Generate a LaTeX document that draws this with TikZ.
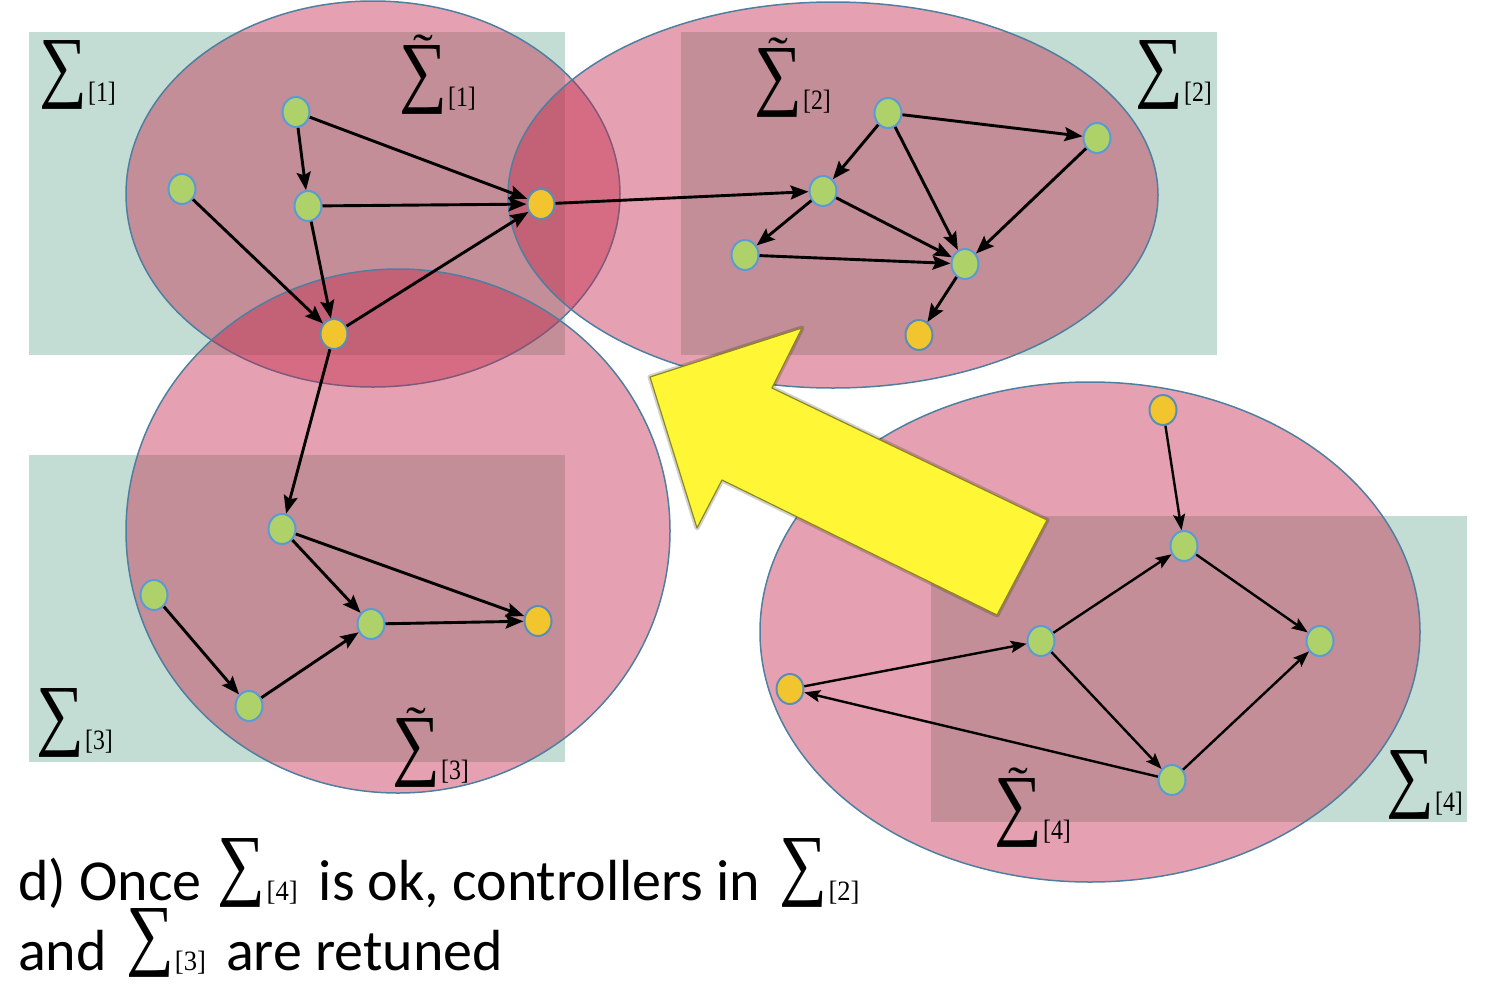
\documentclass[tikz,border=0pt]{standalone}
\usepackage{fontspec}
\usepackage{graphicx}
\newfontfamily\capfont{Carlito}
\newfontfamily\tnr{Liberation Serif}
\usetikzlibrary{arrows.meta,shapes.geometric}
\definecolor{rectg}{HTML}{C3DDD4}
\definecolor{pinkf}{RGB}{195,38,74}
\definecolor{ellst}{HTML}{4F7FA0}
\definecolor{ngreen}{HTML}{AFD16A}
\definecolor{norange}{HTML}{F2C42E}
\definecolor{nborder}{HTML}{5B9BD5}
\definecolor{oborder}{HTML}{5B8DB5}
\definecolor{yarrow}{HTML}{FFF735}
\newcommand\Sg{{\tnr\fontsize{64}{64}\selectfont\scalebox{1.05}[1.24]{∑}}}
\newcommand\SubLab[1]{{\tnr\fontsize{28}{28}\selectfont\scalebox{0.85}[1]{[#1]}}}
\newcommand\CapSub[1]{{\tnr\fontsize{28}{28}\selectfont\scalebox{0.95}[1]{[#1]}}}
\newcommand\SigLab[1]{\Sg\hspace{1pt}\raisebox{-9pt}{\SubLab{#1}}}
\newcommand\TSigLab[1]{\setbox0\hbox{\Sg}\rlap{\hbox to \wd0{\hss\raisebox{30pt}{\tnr\fontsize{44}{44}\selectfont\scalebox{1.35}[1.1]{˜}}\hss}}\box0\hspace{1pt}\raisebox{-9pt}{\SubLab{#1}}}
\newcommand\CapSig[1]{\raisebox{10pt}{\Sg}\hspace{1pt}\CapSub{#1}}
\begin{document}
\begin{tikzpicture}[x=1pt,y=-1pt,
  grect/.style={fill=rectg,draw=none},
  blob/.style={fill=pinkf,fill opacity=0.43,draw=ellst,line width=1.5pt},
  gn/.style={ellipse,minimum width=27pt,minimum height=30pt,inner sep=0pt,fill=ngreen,draw=nborder,line width=2pt},
  on/.style={ellipse,minimum width=27pt,minimum height=30pt,inner sep=0pt,fill=norange,draw=oborder,line width=2pt},
  edge/.style={line width=2.9pt,-{Stealth[length=18pt,width=14pt,inset=3pt]}},
  thinedge/.style={line width=2.4pt,-{Stealth[length=16pt,width=12pt,inset=3pt]}},
  lab/.style={inner sep=0pt,anchor=base west},
  capt/.style={inner sep=0pt,anchor=base west,font=\capfont\fontsize{58}{70}\selectfont}]
\useasboundingbox (0,0) rectangle (1497,991);
% green rectangles
\fill[grect] (29,32) rectangle (565,355);
\fill[grect] (681,32) rectangle (1217,355);
\fill[grect] (29,455) rectangle (565,762);
\fill[grect] (931,516) rectangle (1467,822);
% pink ellipses
\filldraw[blob] (373,194) ellipse [x radius=247pt, y radius=193pt];
\filldraw[blob] (833,195) ellipse [x radius=325pt, y radius=193pt];
\filldraw[blob] (398,531) ellipse [x radius=272pt, y radius=262pt];
\filldraw[blob] (1090,632) ellipse [x radius=330pt, y radius=250pt];
% yellow arrow (soft edge, then body)
\draw[draw=black,opacity=0.18,line width=5pt,line join=round]
  (650,377) -- (802,328) -- (772,388) -- (1047,520) -- (997,615) -- (722,480) -- (697,528) -- cycle;
\filldraw[fill=yarrow,draw=yarrow!55!black,line width=1.2pt,line join=round]
  (650,377) -- (802,328) -- (772,388) -- (1047,520) -- (997,615) -- (722,480) -- (697,528) -- cycle;
% group 1
\node[gn] (a1) at (296,112) {};
\node[gn] (a2) at (182,189) {};
\node[gn] (a3) at (308,206) {};
\node[on] (o1) at (541,204) {};
\node[on] (o2) at (334,334) {};
% group 2
\node[gn] (b1) at (888,113) {};
\node[gn] (b2) at (1097,138) {};
\node[gn] (b3) at (823,191) {};
\node[gn] (b4) at (745,255) {};
\node[gn] (b5) at (965,264) {};
\node[on] (o3) at (919,335) {};
% group 3
\node[gn] (c1) at (282,529) {};
\node[gn] (c2) at (154,595) {};
\node[gn] (c3) at (371,624) {};
\node[gn] (c4) at (249,706) {};
\node[on] (o4) at (538,621) {};
% group 4
\node[on] (o5) at (1163,410) {};
\node[gn] (d1) at (1184,546) {};
\node[gn] (d2) at (1041,641) {};
\node[gn] (d3) at (1320,641) {};
\node[on] (o6) at (790,689) {};
\node[gn] (d4) at (1172,780) {};
% edges
\draw[edge] (a1) -- (a3);
\draw[edge] (a1) -- (o1);
\draw[edge] (a3) -- (o1);
\draw[edge] (a2) -- (o2);
\draw[edge] (a3) -- (o2);
\draw[edge] (o2) -- (o1);
\draw[edge] (o1) -- (b3);
\draw[edge] (b1) -- (b2);
\draw[edge] (b1) -- (b3);
\draw[edge] (b1) -- (b5);
\draw[edge] (b2) -- (b5);
\draw[edge] (b3) -- (b4);
\draw[edge] (b3) -- (b5);
\draw[edge] (b4) -- (b5);
\draw[edge] (b5) -- (o3);
\draw[edge] (o2) -- (c1);
\draw[edge] (c1) -- (c3);
\draw[edge] (c1) -- (o4);
\draw[edge] (c2) -- (c4);
\draw[edge] (c4) -- (c3);
\draw[edge] (c3) -- (o4);
\draw[thinedge] (o5) -- (d1);
\draw[thinedge] (d2) -- (d1);
\draw[thinedge] (d1) -- (d3);
\draw[thinedge] (o6) -- (d2);
\draw[thinedge] (d2) -- (d4);
\draw[thinedge] (d4) -- (d3);
\draw[thinedge] (d4) -- (o6);
% labels
\node[lab] (l1) at (39,92) {\SigLab{1}};
\node[lab] (t1) at (399,97) {\TSigLab{1}};
\node[lab] (t2) at (754,100) {\TSigLab{2}};
\node[lab] (l2) at (1135,92) {\SigLab{2}};
\node[lab] (l3) at (36,740) {\SigLab{3}};
\node[lab] (t3) at (392,770) {\TSigLab{3}};
\node[lab] (t4) at (994,830) {\TSigLab{4}};
\node[lab] (l4) at (1386,802) {\SigLab{4}};
% caption
\node[capt] (cap1) at (18,900)
  {d) Once\hspace{3pt} \CapSig{4}\hspace{8pt} is ok, controllers in\hspace{6pt} \CapSig{2}};
\node[capt] (cap2) at (18,970)
  {and\hspace{6pt} \CapSig{3}\hspace{7pt} are retuned};
\end{tikzpicture}
\end{document}
